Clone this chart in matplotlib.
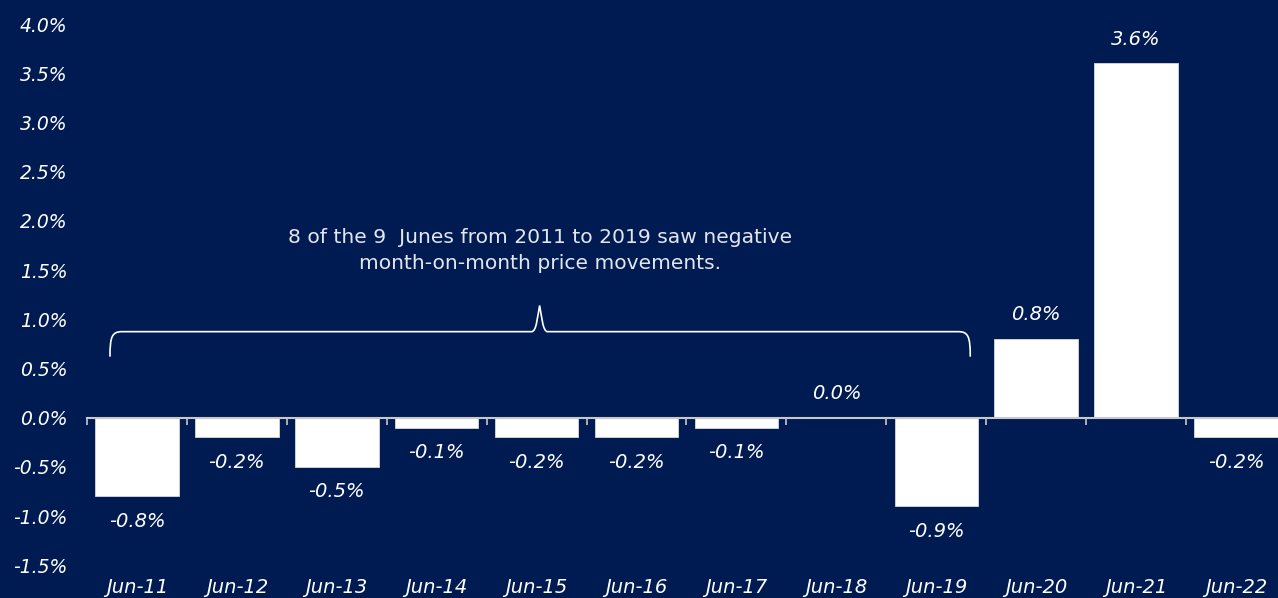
import matplotlib
matplotlib.use("Agg")
import matplotlib.pyplot as plt
from matplotlib.path import Path
from matplotlib.patches import PathPatch
import matplotlib.transforms as mtransforms

categories = ["Jun-11", "Jun-12", "Jun-13", "Jun-14", "Jun-15", "Jun-16",
              "Jun-17", "Jun-18", "Jun-19", "Jun-20", "Jun-21", "Jun-22"]
values = [-0.8, -0.2, -0.5, -0.1, -0.2, -0.2, -0.1, 0.0, -0.9, 0.8, 3.6, -0.2]
yticks = [-1.5, -1.0, -0.5, 0.0, 0.5, 1.0, 1.5, 2.0, 2.5, 3.0, 3.5, 4.0]
note = "8 of the 9  Junes from 2011 to 2019 saw negative\nmonth-on-month price movements."

BG = "#001a52"
plt.rcParams["font.family"] = ["DejaVu Sans"]

W, H = 1278, 598
fig = plt.figure(figsize=(W / 100, H / 100), dpi=100, facecolor=BG)
left, right = 87 / W, 1278 / W
top_px, bot_px = 24, 565.3
ax = fig.add_axes([left, 1 - bot_px / H, right - left, (bot_px - top_px) / H])
ax.set_facecolor(BG)

x = list(range(len(categories)))
ax.bar(x, values, width=0.835, color="white", edgecolor="#d9d9d9", linewidth=0.6, zorder=3)

for s in ["top", "right", "left"]:
    ax.spines[s].set_visible(False)
ax.spines["bottom"].set_position(("data", 0))
ax.spines["bottom"].set_color("#c8c8c8")
ax.spines["bottom"].set_linewidth(1.5)
ax.spines["bottom"].set_zorder(4)

ax.set_xticks([i - 0.5 for i in range(len(categories))])
ax.set_xticklabels([])
ax.tick_params(axis="x", direction="out", length=5, color="#c8c8c8", width=1.2)

ax.set_yticks(yticks)
ax.set_yticklabels([f"{v:.1f}%" for v in yticks], fontsize=13.5, style="italic", color="white")
ax.tick_params(axis="y", length=0, pad=14)

ax.set_xlim(-0.5, 11.42)
ax.set_ylim(-1.5, 4.0)

trans = mtransforms.blended_transform_factory(ax.transData, ax.transAxes)
for i, c in enumerate(categories):
    ax.text(i, -22 / (bot_px - top_px), c, transform=trans, ha="center", va="center",
            fontsize=14, style="italic", color="white")

offset = mtransforms.offset_copy
for i, v in enumerate(values):
    if v >= 0:
        tr = offset(ax.transData, fig=fig, y=24, units="dots")
    else:
        tr = offset(ax.transData, fig=fig, y=-25, units="dots")
    ax.text(i, v, f"{v:.1f}%", transform=tr, ha="center", va="center",
            fontsize=14, style="italic", color="white", zorder=5)

ax.text(4.03, 1.70, note, ha="center", va="center", fontsize=14.6, color="#e4e6ee",
        linespacing=1.5)

# curly brace
x0, x1, xm = -0.27, 8.34, 4.03
yl, ye, yp = 0.874, 0.62, 1.14
verts = [
    (x0, ye), (x0, yl - 0.05), (x0 + 0.02, yl), (x0 + 0.12, yl),
    (xm - 0.08, yl),
    (xm - 0.03, yl), (xm - 0.02, yp - 0.1), (xm, yp),
    (xm + 0.02, yp - 0.1), (xm + 0.03, yl), (xm + 0.08, yl),
    (x1 - 0.12, yl),
    (x1 - 0.02, yl), (x1, yl - 0.05), (x1, ye),
]
codes = [Path.MOVETO, Path.CURVE4, Path.CURVE4, Path.CURVE4,
         Path.LINETO,
         Path.CURVE4, Path.CURVE4, Path.CURVE4,
         Path.CURVE4, Path.CURVE4, Path.CURVE4,
         Path.LINETO,
         Path.CURVE4, Path.CURVE4, Path.CURVE4]
ax.add_patch(PathPatch(Path(verts, codes), facecolor="none", edgecolor="white", linewidth=1.2, zorder=5))

fig.savefig("out.png", dpi=100, facecolor=BG)
